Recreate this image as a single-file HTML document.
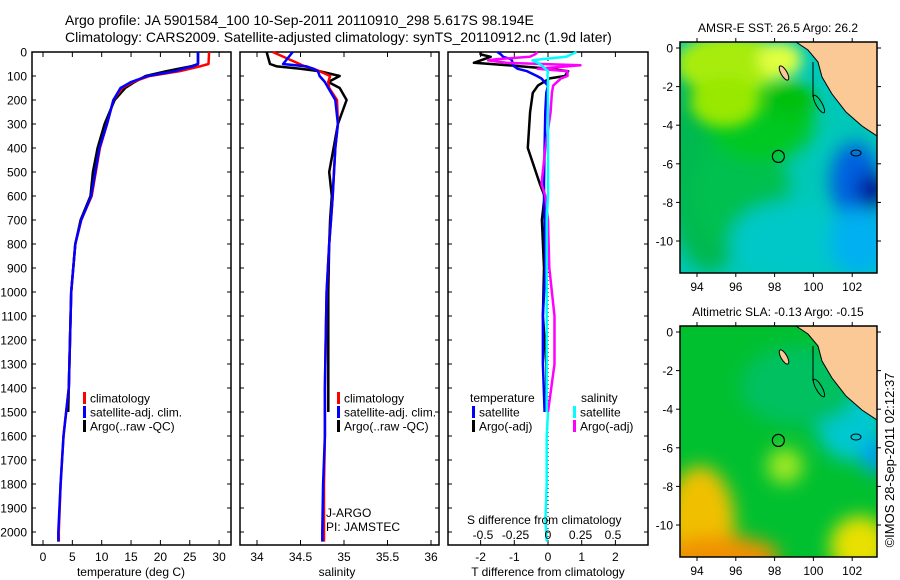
<!DOCTYPE html>
<html><head><meta charset="utf-8"><style>
html,body{margin:0;padding:0;background:#fff}
svg{display:block;font-family:"Liberation Sans",sans-serif}
</style></head><body>
<svg id="fig" width="900" height="580" viewBox="0 0 900 580">
<defs>
<filter id="blur1" x="-20%" y="-20%" width="140%" height="140%"><feGaussianBlur stdDeviation="9"/></filter>
<filter id="blur2" x="-20%" y="-20%" width="140%" height="140%"><feGaussianBlur stdDeviation="7"/></filter>
<clipPath id="clipM1"><rect x="680" y="42" width="197" height="231"/></clipPath>
<clipPath id="clipM2"><rect x="680" y="326" width="197" height="231"/></clipPath>
</defs>
<text x="65" y="25" font-size="14">Argo profile: JA 5901584_100 10-Sep-2011 20110910_298 5.617S 98.194E</text>
<text x="65" y="42" font-size="14">Climatology: CARS2009. Satellite-adjusted climatology: synTS_20110912.nc (1.9d later)</text>
<g id="g1"></g>
<g id="g2"></g>
<g id="g3"></g>
<g id="m1"></g>
<g id="m2"></g>
<text transform="translate(894,460) rotate(-90)" text-anchor="middle" font-size="13">©IMOS 28-Sep-2011 02:12:37</text>
</svg>
<script>
// ---- data ----
const depthTicks = [0,100,200,300,400,500,600,700,800,900,1000,1100,1200,1300,1400,1500,1600,1700,1800,1900,2000];
const tempTicks = [0,5,10,15,20,25,30];
const salTicks = [34,34.5,35,35.5,36];
const salTickLabels = ["34","34.5","35","35.5","36"];
const tdiffTicks = [-2,-1,0,1,2];
const sdiffTicks = [-0.5,-0.25,0,0.25,0.5];
const sdiffTickLabels = ["-0.5","-0.25","0","0.25","0.5"];

const climDepth = [0,50,60,70,80,100,125,150,200,300,400,600,700,800,1000,1200,1400,1600,1800,2000,2040];
const climTemp  = [28.3,28.2,26.7,25,23.3,18.2,15.3,13.5,12,10.9,9.7,8.3,6.5,5.5,4.8,4.6,4.4,3.5,3.0,2.7,2.7];
const satTemp   = [26.4,26.4,25.5,23.8,22.5,17.8,15.0,13.2,12,10.9,9.6,8.2,6.5,5.5,4.8,4.6,4.4,3.5,3.0,2.6,2.6];
const argoDepth = [0,50,60,70,80,100,125,150,200,300,400,500,600,700,800,1000,1200,1400,1500];
const argoTemp  = [26.4,26.4,25.2,23,21,17.5,15.6,14,12.2,10.5,9.3,8.5,8.1,6.4,5.5,4.8,4.6,4.4,4.3];

const climSal = [34.18,34.49,34.55,34.65,34.72,34.84,34.82,34.83,34.92,34.93,34.9,34.87,34.85,34.83,34.8,34.79,34.78,34.78,34.77,34.77,34.77];
const satSal  = [34.41,34.3,34.57,34.65,34.7,34.72,34.78,34.82,34.9,34.93,34.9,34.87,34.85,34.83,34.8,34.79,34.78,34.78,34.76,34.75,34.75];
const argoSal = [34.11,34.15,34.23,34.5,34.72,34.95,34.82,34.95,35.03,34.93,34.88,34.83,34.86,34.84,34.83,34.82,34.82,34.82,34.82];

const diffDepth = [0,10,20,30,35,45,55,70,80,100,110,140,170,250,400,550,600,700,900,1100,1300,1500];
const tDiffSat  = [-1.5,-1.4,-1.33,-1.1,-1.07,-1.05,-1.05,-0.9,-0.62,-0.33,-0.2,0,-0.05,-0.08,-0.1,-0.12,-0.12,-0.1,-0.08,-0.15,-0.15,-0.1];
const tDiffArgo = [-2.0,-2.0,-1.7,-1.9,-2.0,-2.2,-1.2,0.05,0.6,0.5,0.05,-0.3,-0.45,-0.53,-0.6,-0.24,-0.1,-0.18,-0.12,-0.15,-0.05,-0.05];
const sDiffSat  = [0.22,0.18,0.14,-0.05,-0.12,-0.08,-0.05,-0.02,0,-0.005,0,0,0,0,0,0,0,-0.01,-0.01,-0.01,-0.01,-0.01];
const sDiffArgo = [-0.08,-0.1,-0.14,-0.4,-0.46,-0.32,0.25,-0.08,0.15,0.15,0.1,0.04,0.03,0.02,-0.02,-0.05,-0.02,0.0,0.01,0.05,0.05,0.0];
const sDiffSatDeep = [0.0,-0.01,-0.01,-0.02,-0.01];
const deepDepth = [1500,1600,1800,1950,2040];

// ---- scales ----
const Y0=52, YPX=0.24;
const yD = d => Y0 + d*YPX;
const xT = t => 43 + t*5.87;
const xS = s => 257 + (s-34)*87;
const xTD = t => 548 + t*33.7;
const xSD = s => 548 + s*130;
const NS='http://www.w3.org/2000/svg';
function el(tag, attrs, parent, txt){
  const e=document.createElementNS(NS,tag);
  for(const k in attrs) e.setAttribute(k,attrs[k]);
  if(txt!==undefined) e.textContent=txt;
  parent.appendChild(e); return e;
}
function line(xs, ds, sx, color, parent, name, w){
  const pts = xs.map((v,i)=>sx(v).toFixed(1)+','+yD(ds[i]).toFixed(1)).join(' ');
  const p = el('polyline',{points:pts,fill:'none',stroke:color,'stroke-width':w||2.5,'stroke-linejoin':'round'},parent);
  
  
  return p;
}
function panelFrame(g, x0, x1, ticks, sx, labels, showY){
  el('rect',{x:x0,y:52,width:x1-x0,height:493,fill:'none',stroke:'#000','stroke-width':1.5},g);
  depthTicks.forEach(d=>{
    const y=yD(d);
    el('line',{x1:x0,y1:y,x2:x0+4,y2:y,stroke:'#000'},g);
    el('line',{x1:x1-4,y1:y,x2:x1,y2:y,stroke:'#000'},g);
    if(showY){
      const t=el('text',{x:x0-5,y:y+4.5,'font-size':12,'text-anchor':'end'},g,String(d));
      
      
    }
  });
  ticks.forEach((v,i)=>{
    const x=sx(v);
    el('line',{x1:x,y1:52,x2:x,y2:57,stroke:'#000'},g);
    el('line',{x1:x,y1:540,x2:x,y2:545,stroke:'#000'},g);
    if(labels){
      const t=el('text',{x:x,y:561,'font-size':12,'text-anchor':'middle'},g,labels[i]);
      
      
    }
  });
}
function legendEntry(g,x,y,color,label){
  const r=el('rect',{x:x,y:y-6,width:3,height:12,fill:color},g);
  
  
  const t=el('text',{x:x+7,y:y+4.5,'font-size':12},g,label);
  
  
}

// ---- panel 1 ----
const g1=document.getElementById('g1');
panelFrame(g1,32,231,tempTicks,xT,tempTicks.map(String),true);
line(argoTemp,argoDepth,xT,'#000',g1,'argo-temperature-line');
line(climTemp,climDepth,xT,'#f00',g1,'climatology-temperature-line');
line(satTemp,climDepth,xT,'#00f',g1,'satellite-temperature-line');
el('text',{x:131,y:576,'font-size':12,'text-anchor':'middle'},g1,'temperature (deg C)');
legendEntry(g1,83,398,'#f00','climatology');
legendEntry(g1,83,412,'#00f','satellite-adj. clim.');
legendEntry(g1,83,426,'#000','Argo(..raw -QC)');

// ---- panel 2 ----
const g2=document.getElementById('g2');
panelFrame(g2,240,439,salTicks,xS,salTickLabels,false);
line(argoSal,argoDepth,xS,'#000',g2,'argo-salinity-line');
line(climSal,climDepth,xS,'#f00',g2,'climatology-salinity-line');
line(satSal,climDepth,xS,'#00f',g2,'satellite-salinity-line');
el('text',{x:337,y:576,'font-size':12,'text-anchor':'middle'},g2,'salinity');
legendEntry(g2,337,398,'#f00','climatology');
legendEntry(g2,337,412,'#00f','satellite-adj. clim.');
legendEntry(g2,337,426,'#000','Argo(..raw -QC)');
el('text',{x:326,y:517,'font-size':12},g2,'J-ARGO');
el('text',{x:326,y:531,'font-size':12},g2,'PI: JAMSTEC');

// ---- panel 3 ----
const g3=document.getElementById('g3');
panelFrame(g3,448,648,tdiffTicks,xTD,tdiffTicks.map(String),false);
el('line',{x1:548,y1:52,x2:548,y2:545,stroke:'#000','stroke-dasharray':'1,3'},g3);
line(tDiffArgo,diffDepth,xTD,'#000',g3,'argo-temperature-diff-line');
line(tDiffSat,diffDepth,xTD,'#00f',g3,'satellite-temperature-diff-line');
line(sDiffArgo,diffDepth,xSD,'#f0f',g3,'argo-salinity-diff-line');
line(sDiffSat,diffDepth,xSD,'#0ff',g3,'satellite-salinity-diff-line');
line(sDiffSatDeep,deepDepth,xSD,'#0ff',g3,'satellite-salinity-diff-deep-line');
el('text',{x:470,y:402,'font-size':12},g3,'temperature');
el('text',{x:581,y:402,'font-size':12},g3,'salinity');
legendEntry(g3,472,412,'#00f','satellite');
legendEntry(g3,472,426,'#000','Argo(-adj)');
legendEntry(g3,573,412,'#0ff','satellite');
legendEntry(g3,573,426,'#f0f','Argo(-adj)');
el('text',{x:467,y:524,'font-size':12},g3,'S difference from climatology');
sdiffTicks.forEach((v,i)=>{
  const t=el('text',{x:xSD(v),y:539,'font-size':12,'text-anchor':'middle'},g3,sdiffTickLabels[i]);
  
  
});
el('text',{x:548,y:576,'font-size':12,'text-anchor':'middle'},g3,'T difference from climatology');

// ---- maps ----
const lonTicks=[94,96,98,100,102];
const latTicks=[0,-2,-4,-6,-8,-10];
const argoLon=98.194, argoLat=-5.617;
function drawMap(g, top, title, clip, blobs, sharp){
  const xL=l=>697+(l-94)*19.4, yL=l=>top+6-l*19.3;
  const c=el('g',{'clip-path':'url(#'+clip+')'},g);
  el('rect',{x:680,y:top,width:197,height:231,fill:blobs[0]},c);
  const b=el('g',{filter:'url(#blur1)'},c);
  blobs.slice(1).forEach(bl=>el('ellipse',{cx:bl[0],cy:top+bl[1],rx:bl[2],ry:bl[3],fill:bl[4]},b));
  const b2=el('g',{filter:'url(#blur2)'},c);
  sharp.forEach(r=>el('ellipse',{cx:r[0],cy:top+r[1],rx:r[2],ry:r[3],fill:r[4]},b2));
  const land=el('polygon',{points:[[796,0],[808,8],[818,20],[822,35],[832,52],[846,70],[862,84],[877,94],[880,94],[880,-5],[796,-5]].map(p=>p[0]+','+(top+p[1])).join(' '),fill:'#fbc995',stroke:'#000','stroke-width':1},c);
  
  
  el('ellipse',{cx:784,cy:top+31,rx:3,ry:8,fill:'#fbc995',stroke:'#000',transform:'rotate(-30 784 '+(top+31)+')'},c);
  el('ellipse',{cx:819,cy:top+62,rx:3,ry:10,fill:'none',stroke:'#000',transform:'rotate(-30 819 '+(top+62)+')'},c);
  el('ellipse',{cx:856,cy:top+111,rx:5,ry:3,fill:'none',stroke:'#000'},c);
  el('line',{x1:813,y1:top+20,x2:813,y2:top+55,stroke:'#000'},c);
  el('rect',{x:680,y:top,width:197,height:231,fill:'none',stroke:'#000','stroke-width':1.5},g);
  lonTicks.forEach(l=>{
    el('line',{x1:xL(l),y1:top+231,x2:xL(l),y2:top+235,stroke:'#000'},g);
    el('line',{x1:xL(l),y1:top,x2:xL(l),y2:top-4,stroke:'#000'},g);
    el('text',{x:xL(l),y:top+249,'font-size':12,'text-anchor':'middle'},g,String(l));
  });
  latTicks.forEach(l=>{
    el('line',{x1:676,y1:yL(l),x2:680,y2:yL(l),stroke:'#000'},g);
    el('line',{x1:877,y1:yL(l),x2:881,y2:yL(l),stroke:'#000'},g);
    el('text',{x:673,y:yL(l)+4.5,'font-size':12,'text-anchor':'end'},g,String(l));
  });
  const m=el('circle',{cx:xL(argoLon),cy:yL(argoLat),r:6,fill:'none',stroke:'#000','stroke-width':1.2},g);
  
  
  el('text',{x:778,y:top-10,'font-size':12,'text-anchor':'middle'},g,title);
}
drawMap(document.getElementById('m1'),42,'AMSR-E SST: 26.5 Argo: 26.2','clipM1',
 ['#00c8b8',[710,120,45,110,'#00b850'],[740,150,50,60,'#00c050'],[760,80,55,40,'#00c820'],[790,200,60,40,'#00c8c8'],[855,140,25,40,'#0060e0'],[872,150,14,20,'#000090'],[860,200,30,35,'#00b0f0']],
 [[730,22,55,30,'#a8ec10'],[725,60,35,25,'#98e800'],[780,18,22,18,'#e0ff40'],[790,58,25,16,'#00c010']]);
drawMap(document.getElementById('m2'),326,'Altimetric SLA: -0.13 Argo: -0.15','clipM2',
 ['#00c030',[700,200,35,60,'#f0c000'],[720,230,60,20,'#f09000'],[860,220,30,30,'#e8e000'],[785,140,18,18,'#a0e820'],[850,90,35,45,'#00c8d0'],[875,130,14,18,'#00a0f0'],[800,60,60,40,'#00c060']],
 []);
</script>
</body></html>
